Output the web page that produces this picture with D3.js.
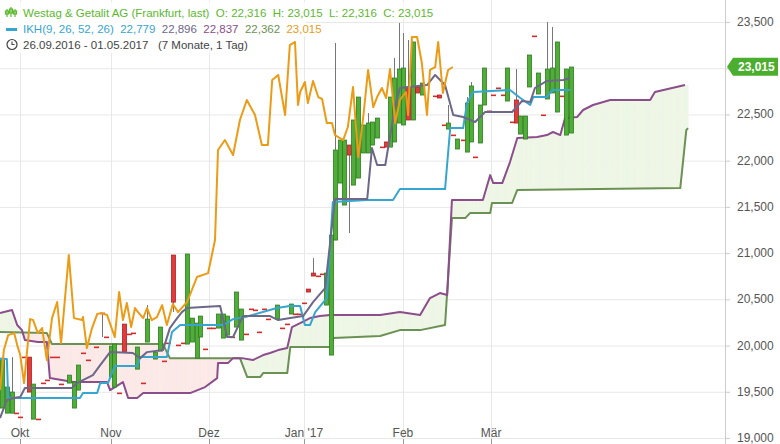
<!DOCTYPE html>
<html><head><meta charset="utf-8">
<script src="https://cdn.jsdelivr.net/npm/d3@7"></script>
<style>body{margin:0;background:#fff}svg{display:block;font-family:"Liberation Sans",Arial,sans-serif}text{white-space:pre}</style>
</head><body><svg id="c" width="780" height="444"></svg>
<script>
// ---------- DATA (t = trading-day index from 26.09.2016) ----------
const monthTicks = [4.65, 25.8, 48.6, 70.7, 93.7, 114.2];
const monthLabels = ["Okt","Nov","Dez","Jan '17","Feb","Mär"];
const yTicks = [19000,19500,20000,20500,21000,21500,22000,22500,23000,23500];

// candles: t, open, close, high, low (null = body extremes)
const candleT = [0.5,1.6,2.8,3.7,4.7,5.6,6.7,7.7,8.8,10,10.9,12.1,13.3,14.2,16,17.2,18.1,19.3,20.5,22.3,23.7,24.7,25.8,26.5,27.7,28.8,30,30.9,31.9,33.3,34.2,36.1,37.2,38.1,39.1,40.2,41.4,42.6,43.5,44.7,45.8,46.5,47.7,48.6,49.5,50.7,51.9,52.8,54,54.9,56.1,57.2,58.4,59.3,60.2,61.4,62.3,64.4,65.6,66.8,67.7,68.6,69.5,70.7,71.6,72.8,74,74.9,75.9,77,77.9,79.1,80,81.2,82.1,83.3,84.4,85.6,86.5,87.7,88.8,89.8,90.7,91.6,92.8,93.7,94.9,96.1,97,98.2,101.2,102.1,103.3,104.2,105.4,106.3,107.7,108.6,109.6,110.5,111.6,112.6,113.7,114.7,115.8,117,117.9,119.1,120,121,122.1,123,124.2,125.1,126.3,127.2,128.4,129.6,130.7,131.6,132.8];
const candleOpen = [19324,19269,19269,19269,19226,19875,19875,19204,19204,19594,19626,19875,19875,19583,19594,19324,19518,19919,19843,19984,20351,20092,19659,19551,19486,20232,20124,20135,19745,19594,20038,19854,19940,19832,20027,20979,20005,20027,20016,20038,19864,20092,19962,20189,20189,20189,20081,20113,20092,20200,20059,20124,20395,20384,20146,20395,20286,20286,20189,20232,20341,20341,20341,20460,20611,20784,20752,20774,20438,19897,21141,21758,21520,22169,21736,21812,22083,22083,22169,22245,22147,22202,22147,22202,22407,22386,22797,22440,22797,22710,22699,22710,22386,22342,22277,22126,22223,22093,22202,22039,22191,22602,22537,22710,22786,22710,22645,22418,22656,22288,22234,22797,23348,22721,22494,22667,22732,22526,22699,22277,22299];
const candleClose = [19864,19551,19497,19269,19226,19875,19497,19583,19204,19594,19626,19875,19875,19583,19680,19605,19789,19919,19843,19984,20351,20092,19994,20016,19486,19929,20124,20135,19984,19594,20286,19929,20200,19832,20027,20470,20005,20027,20990,20297,20243,20319,19962,20189,20189,20341,20341,20319,20092,20579,20395,20124,20395,20384,20146,20395,20286,20438,20189,20232,20449,20341,20341,20460,20579,20752,20752,20774,20784,21195,22115,22223,22223,22061,22440,22688,22386,22407,22418,22461,22147,22147,22688,22894,22991,23002,22440,23284,22732,22840,22699,22678,22386,22407,22277,22234,22223,22623,22808,22039,22602,23002,22537,22710,22786,22710,23002,22418,22407,22483,22483,23143,23348,22948,22494,22991,23002,23284,22699,22991,23013];
const candleHigh = [null,null,19875,null,null,null,null,null,null,null,null,null,null,null,null,null,null,null,null,null,null,null,null,null,null,null,null,null,null,null,20438,null,null,null,null,null,null,null,null,null,null,null,null,null,null,null,null,null,null,null,null,null,null,null,null,null,null,null,null,null,null,null,null,null,null,20946,null,null,null,null,23273,null,null,null,null,null,null,22515,null,null,null,null,null,23110,23489,23381,23305,null,null,null,null,null,null,22602,null,null,null,22688,22851,null,null,null,null,null,null,null,null,null,22991,null,null,null,null,null,null,23500,23446,null,null,null,null];
const candleLow = [null,null,null,null,null,null,null,null,null,null,null,null,null,null,null,null,null,null,null,null,20092,null,null,null,null,null,null,null,null,null,null,null,null,null,null,20362,null,null,null,null,null,null,null,null,null,null,null,null,null,null,null,null,null,null,null,null,null,null,null,null,null,null,null,null,null,null,null,null,null,null,21141,null,null,21217,null,null,null,null,null,null,null,null,null,null,null,null,null,null,null,null,null,null,null,null,null,null,null,null,null,null,null,null,null,null,null,null,null,null,null,null,null,null,null,null,null,null,null,null,null,null,null];

// Chikou span (orange)
const chikouT = [0,0.9,1.9,3.3,4,4.7,5.6,7,7.7,8.8,9.8,10.9,12.1,13.3,14.2,16,17.2,19.1,19.3,20.2,21.4,22.6,23.5,24.9,26.7,27.7,28.6,29.5,30.5,31.4,32.1,33.3,34.2,35.3,36.5,37.7,38.8,40.2,41.4,43.5,45.8,48.4,50,50.7,52.3,54.2,55.8,57.4,59.3,60.9,62.3,63.3,64.7,66.3,67.4,68.6,69.3,69.8,70.9,71.6,72.8,74,74.9,76,77.2,77.9,79.8,80.9,82.1,83.3,84.4,85.6,86.8,87.7,88.8,89.8,90.7,91.9,93,94.4,94.9,95.8,97,98.1,99.3,100,101.2,101.9,103,104.2,105.3];
const chikouV = [19518,19951,20113,20135,20005,19897,19594,20286,20276,20135,20189,19843,20297,20471,20027,20979,20297,20276,20308,19973,20189,20341,20351,20330,20092,20579,20276,20460,20200,20406,20362,20297,20406,20276,20308,20438,20222,20449,20362,20471,20741,20784,21141,22115,22223,22061,22440,22656,22494,22169,22169,22872,22927,22494,23251,23284,22602,22743,22851,22623,22862,22688,22667,22407,22407,22277,22223,22364,22797,22039,22440,22981,22580,22688,22786,22678,22991,22407,22656,22743,22494,23338,23338,23056,22494,22981,23013,23284,22732,22981,23013];

// Kijun-sen (blue)
const kijunT = [0,1.6,1.9,18.6,19.3,22.6,23.3,25.1,26.7,31.9,32.6,38.8,40,41.9,51.9,54.2,57,64.4,67.4,69.8,70.9,72.1,73.3,76,77.4,85.3,91.4,93,103.5,104.7,107.7,108.6,110,118.6,121,123.3,124,127.2,128.4,132.6];
const kijunV = [19854,19854,19432,19432,19486,19486,19594,19594,19778,19778,19875,19875,20146,20222,20222,20286,20308,20406,20427,20427,20222,20222,20362,20514,21553,21574,21574,21693,21693,22353,22353,22623,22743,22764,22678,22602,22688,22688,22764,22764];

// Tenkan-sen (grey-violet)
const tenkanT = [0,1.6,3,4.7,5.8,16.7,17.9,21.6,23.3,25.6,30.9,32.6,34.2,37.9,39.5,41.2,42.3,43.5,47.2,51.2,52.8,54.2,56.5,62.8,64.7,67.5,70.5,72.8,75.6,77.9,85.4,86.5,87.7,89.6,91.9,93,99.3,101.2,103.5,105.4,107.7,110.5,112.8,119.1,121.4,123.3,124.4,127.2,131,132.6];
const tenkanV = [19215,19410,19432,19443,19540,19540,19594,19680,19789,19929,19919,19864,19929,19951,20189,20297,20362,20406,20416,20427,20092,20092,20319,20319,20276,20297,20319,20470,20622,21585,21585,22137,21953,21953,22602,22786,22818,22927,22818,22494,22472,22418,22526,22526,22645,22634,22786,22862,22872,22894];

// Senkou span A (purple)
const spanAT = [0,2.8,4,5.1,5.8,8.8,10.9,11.6,17,24.9,25.6,28.6,29.8,31.9,33.3,44.2,47.7,50.5,50.7,53,54.2,56.3,58.8,61.2,62.8,64.7,66.8,67.9,69.8,72.1,74.4,76.8,88.4,93,97.7,100,102.3,104,105.1,112.3,114,114.7,116.8,118.6,120.3,124.9,127.2,128.6,130.3,131.4,134.2,135.6,137.9,139.5,141.9,151.2,152.3,159.3];
const spanAV = [20351,20384,20222,20167,20059,20038,20038,19648,19605,19605,19518,19605,19432,19432,19486,19486,19551,19648,19810,19810,19864,19864,19843,19897,19919,19951,19973,20200,20243,20297,20319,20330,20330,20362,20330,20514,20568,20546,21574,21574,21844,21758,21758,21985,22245,22256,22277,22310,22277,22461,22472,22548,22602,22623,22656,22656,22743,22818];

// Senkou span B (green)
const spanBT = [0,10.9,12.1,37.9,39.5,55.8,57.5,60.5,61.2,66.8,67.5,76.8,77.5,88.4,93,97.7,103.5,105.1,108.2,109.3,114,114.4,119.1,120.3,158.2,159.6,160];
const spanBV = [20146,20135,20016,20016,19864,19864,19659,19659,19702,19702,19984,19984,20081,20103,20167,20167,20222,21379,21379,21433,21433,21542,21542,21684,21704,22331,22353];

const lastClose = 23015;

// ---------- DRAW ----------
const svg = d3.select("#c");
const W = 725, yTop = 22, yBot = 438;
const x = d3.scaleLinear().domain([0, 168.6]).range([0, W]);
const y = d3.scaleLinear().domain([19000, 23500]).range([yBot, yTop]);

const g = svg.append("g");
g.selectAll("line.h").data(yTicks).join("line").attr("class","h")
  .attr("x1",0).attr("x2",W).attr("y1",d=>y(d)+0.5).attr("y2",d=>y(d)+0.5)
  .attr("stroke","#e8e8e8");
g.selectAll("line.v").data(monthTicks).join("line").attr("class","v")
  .attr("x1",d=>Math.round(x(d))+0.5).attr("x2",d=>Math.round(x(d))+0.5).attr("y1",0).attr("y2",yBot)
  .attr("stroke","#e8e8e8");
svg.append("line").attr("x1",W+0.5).attr("x2",W+0.5).attr("y1",0).attr("y2",444).attr("stroke","#ccc");

const interp = (T, V) => t => {
  if (t <= T[0]) return V[0];
  for (let i = 1; i < T.length; i++) if (t <= T[i]) {
    const f = (t - T[i-1]) / (T[i] - T[i-1] || 1); return V[i-1] + f * (V[i] - V[i-1]);
  }
  return V[V.length-1];
};
const fa = interp(spanAT, spanAV), fb = interp(spanBT, spanBV);
const step = 0.2;
for (let t = 0; t < 160; t += step) {
  const t2 = Math.min(t + step, 160);
  const a1 = fa(t), a2 = fa(t2), b1 = fb(t), b2 = fb(t2);
  const up = (a1 + a2) >= (b1 + b2);
  const col = up ? "#eef6e6" : "#fbe9e8";
  svg.append("path")
    .attr("d", `M${x(t)},${y(a1)}L${x(t2)},${y(a2)}L${x(t2)},${y(b2)}L${x(t)},${y(b1)}Z`)
    .attr("fill", col).attr("stroke", col).attr("stroke-width",0.6);
}

const line = d3.line().x(d=>x(d[0])).y(d=>y(d[1]));
const drawLine = (T, V, color, w) => svg.append("path")
  .attr("d", line(T.map((t,i)=>[t,V[i]]))).attr("fill","none")
  .attr("stroke",color).attr("stroke-width",w).attr("stroke-linejoin","round");

drawLine(spanBT, spanBV, "#6b9154", 2);
drawLine(spanAT, spanAV, "#8c4d8c", 2);

const cg = svg.append("g");
candleT.forEach((t,i) => {
  const o = candleOpen[i], c = candleClose[i];
  const hi = candleHigh[i] ?? Math.max(o,c), lo = candleLow[i] ?? Math.min(o,c);
  const cx = Math.round(x(t)) + 0.5;
  if (hi > Math.max(o,c) || lo < Math.min(o,c))
    cg.append("line").attr("x1",cx).attr("x2",cx).attr("y1",y(hi)).attr("y2",y(lo)).attr("stroke","#777").attr("stroke-width",1);
  if (o === c) {
    cg.append("rect").attr("x",cx-2.5).attr("y",y(c)-0.5).attr("width",5).attr("height",1.6).attr("fill","#d62b2b");
  } else {
    const upc = c > o;
    const y1 = y(Math.max(o,c)), y2 = y(Math.min(o,c));
    cg.append("rect").attr("x",cx-2).attr("y",y1).attr("width",4).attr("height",Math.max(1.5,y2-y1))
      .attr("fill", upc ? "#4eae38" : "#e23b3b").attr("stroke", upc ? "#2e7d1f" : "#b02020").attr("stroke-width",0.8);
  }
});

drawLine(kijunT, kijunV, "#36a5cf", 2);
drawLine(tenkanT, tenkanV, "#6d6788", 2);
drawLine(chikouT, chikouV, "#ec9b16", 2);

svg.selectAll("text.yl").data(yTicks).join("text").attr("class","yl")
  .attr("x",737).attr("y",d=>y(d)+4).attr("font-size",12).attr("fill","#555")
  .text(d=>d3.format(",")(d));
svg.selectAll("line.yt").data(yTicks).join("line").attr("class","yt")
  .attr("x1",W).attr("x2",W+5).attr("y1",d=>y(d)+0.5).attr("y2",d=>y(d)+0.5).attr("stroke","#ccc");

const ly = y(lastClose);
svg.append("path").attr("d",`M${W+2},${ly}L${W+8},${ly-9}H778V${ly+9}H${W+8}Z`).attr("fill","#4cae2e");
svg.append("text").attr("x",738).attr("y",ly+4.5).attr("font-size",12).attr("font-weight","bold").attr("fill","#fff").text(d3.format(",")(lastClose));

svg.selectAll("text.xl").data(monthTicks).join("text").attr("class","xl")
  .attr("x",d=>x(d)).attr("y",437).attr("text-anchor","middle").attr("font-size",12).attr("fill","#555")
  .text((d,i)=>monthLabels[i]);
svg.selectAll("line.xt").data(monthTicks).join("line").attr("class","xt")
  .attr("x1",d=>Math.round(x(d))+0.5).attr("x2",d=>Math.round(x(d))+0.5).attr("y1",439).attr("y2",444).attr("stroke","#999");

const lg = svg.append("g").attr("font-size",11.5);
lg.append("rect").attr("x",0).attr("y",2).attr("width",410).attr("height",17).attr("fill","#fff").attr("opacity",0.85);
lg.append("rect").attr("x",0).attr("y",19).attr("width",306).attr("height",17).attr("fill","#fff").attr("opacity",0.85);
lg.append("rect").attr("x",0).attr("y",36).attr("width",236).attr("height",17).attr("fill","#fff").attr("opacity",0.85);
const ic = lg.append("g").attr("stroke","#5cb82e").attr("stroke-width",1.2).attr("fill","none");
[[7,9,17,11,14],[11,7,17,9,13],[15,9,17,11,14]].forEach(([xx,a,b,c1,c2])=>{
  ic.append("line").attr("x1",xx).attr("x2",xx).attr("y1",a).attr("y2",b);
  ic.append("rect").attr("x",xx-1.5).attr("y",c1).attr("width",3).attr("height",c2-c1);
});
lg.append("text").attr("x",23).attr("y",17).attr("fill","#5cb82e")
  .text("Westag & Getalit AG (Frankfurt, last)  O: 22,316  H: 23,015  L: 22,316  C: 23,015");
lg.append("rect").attr("x",6).attr("y",28).attr("width",11).attr("height",3).attr("fill","#36a5cf");
const t2 = lg.append("text").attr("x",23).attr("y",33);
t2.append("tspan").attr("fill","#36a5cf").text("IKH(9, 26, 52, 26)  22,779");
t2.append("tspan").attr("fill","#6d6788").text("  22,896");
t2.append("tspan").attr("fill","#8c4d8c").text("  22,837");
t2.append("tspan").attr("fill","#6b9154").text("  22,362");
t2.append("tspan").attr("fill","#ec9b16").text("  23,015");
lg.append("circle").attr("cx",12).attr("cy",44.5).attr("r",5).attr("fill","none").attr("stroke","#444").attr("stroke-width",1.2);
lg.append("path").attr("d","M12,41.5V44.5H14.5").attr("fill","none").attr("stroke","#444").attr("stroke-width",1.1);
lg.append("text").attr("x",23).attr("y",49).attr("fill","#444").text("26.09.2016 - 01.05.2017   (7 Monate, 1 Tag)");
</script></body></html>
